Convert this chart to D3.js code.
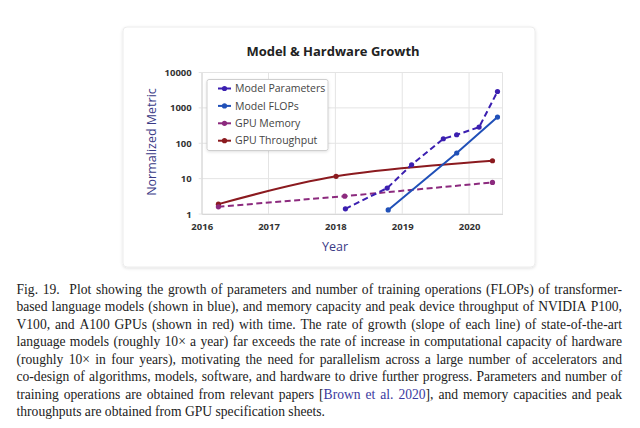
<!DOCTYPE html>
<html><head><meta charset="utf-8">
<script src="https://cdn.jsdelivr.net/npm/d3@7"></script>
<style>html,body{margin:0;padding:0;background:#fff;}svg{display:block;}</style>
</head><body>
<svg id="c" width="640" height="428"></svg>
<script>
// ---- data ----
const paramYears = [2018.15, 2018.775, 2019.14, 2019.615, 2019.815, 2020.15, 2020.425];
const paramVals  = [1.4, 5.4, 24.7, 134, 174, 286, 2900];
const flopYears  = [2018.79, 2019.815, 2020.425];
const flopVals   = [1.3, 53, 550];
const memYears   = [2016.25, 2018.14, 2020.35];
const memVals    = [1.6, 3.2, 7.8];
const thrYears   = [2016.25, 2018.01, 2020.35];
const thrVals    = [1.9, 11.6, 32];
const seriesNames = ["Model Parameters", "Model FLOPs", "GPU Memory", "GPU Throughput"];
const xTicks = [2016, 2017, 2018, 2019, 2020];
const yTicks = [1, 10, 100, 1000, 10000];
const captionLines = [
 "Fig. 19.  Plot showing the growth of parameters and number of training operations (FLOPs) of transformer-",
 "based language models (shown in blue), and memory capacity and peak device throughput of NVIDIA P100,",
 "V100, and A100 GPUs (shown in red) with time. The rate of growth (slope of each line) of state-of-the-art",
 "language models (roughly 10× a year) far exceeds the rate of increase in computational capacity of hardware",
 "(roughly 10× in four years), motivating the need for parallelism across a large number of accelerators and",
 "co-design of algorithms, models, software, and hardware to drive further progress. Parameters and number of",
 "training operations are obtained from relevant papers [Brown et al. 2020], and memory capacities and peak",
 "throughputs are obtained from GPU specification sheets."
];

const svg = d3.select("#c");
const defs = svg.append("defs");
const f = defs.append("filter").attr("id","sh").attr("x","-5%").attr("y","-5%").attr("width","110%").attr("height","115%");
f.append("feDropShadow").attr("dx",0).attr("dy",1).attr("stdDeviation",1.5).attr("flood-color","#000").attr("flood-opacity",0.12);

// card
svg.append("rect").attr("x",123).attr("y",27).attr("width",412).attr("height",240).attr("rx",4)
  .attr("fill","#fff").attr("stroke","#ececec").attr("filter","url(#sh)");

const x = d3.scaleLinear().domain([2016, 2020.5]).range([201.7, 502.5]);
const y = d3.scaleLog().domain([1, 10000]).range([214, 72.5]);

// grid
const g = svg.append("g");
g.selectAll(".vg").data(xTicks.concat([2020.5])).join("line")
  .attr("x1",d=>x(d)).attr("x2",d=>x(d)).attr("y1",y(1)).attr("y2",y(10000))
  .attr("stroke","#e4e4e4").attr("stroke-width",1);
g.selectAll(".hg").data(yTicks).join("line")
  .attr("x1",x(2016)-3).attr("x2",x(2020.5)).attr("y1",d=>y(d)).attr("y2",d=>y(d))
  .attr("stroke","#e4e4e4").attr("stroke-width",1);

// axes
const ax = svg.append("g").attr("transform",`translate(0,${y(1)})`)
  .call(d3.axisBottom(x).tickValues(xTicks).tickFormat(d3.format("d")).tickSize(0).tickPadding(9));
const ay = svg.append("g").attr("transform",`translate(${x(2016)},0)`)
  .call(d3.axisLeft(y).tickValues(yTicks).tickFormat(d3.format("d")).tickSize(0).tickPadding(10));
[ax, ay].forEach(a => {
  a.select(".domain").attr("stroke","#d8d8d8");
  a.selectAll("text").attr("font-family","'Open Sans', sans-serif").attr("font-weight",700)
    .attr("font-size","9.5px").attr("fill","#333");
});

// title & labels
svg.append("text").attr("x",333).attr("y",56).attr("text-anchor","middle")
  .attr("font-family","'Open Sans', sans-serif").attr("font-weight",700).attr("font-size","13px")
  .attr("fill","#222").text("Model & Hardware Growth");
svg.append("text").attr("transform","translate(156,142) rotate(-90)").attr("text-anchor","middle")
  .attr("font-family","'Open Sans', sans-serif").attr("font-size","12.5px")
  .attr("fill","#3a3a86").text("Normalized Metric");
svg.append("text").attr("x",335).attr("y",251).attr("text-anchor","middle")
  .attr("font-family","'Open Sans', sans-serif").attr("font-size","12.5px")
  .attr("fill","#3a3a86").text("Year");

// series
const series = [
  {name: seriesNames[0], xs: paramYears, vs: paramVals, color:"#3b1fb0", dash:"6,3.5", curve:d3.curveLinear},
  {name: seriesNames[1], xs: flopYears, vs: flopVals, color:"#2050b8", dash:null, curve:d3.curveLinear},
  {name: seriesNames[2], xs: memYears, vs: memVals, color:"#8c2a7e", dash:"6,3.5", curve:d3.curveLinear},
  {name: seriesNames[3], xs: thrYears, vs: thrVals, color:"#8b1a1f", dash:null, curve:d3.curveCatmullRom.alpha(0.5)}
];
const drawOrder = [3, 2, 1, 0];
drawOrder.forEach(i => {
  const s = series[i];
  const pts = s.xs.map((d,j)=>[d, s.vs[j]]);
  const line = d3.line().x(d=>x(d[0])).y(d=>y(d[1])).curve(s.curve);
  svg.append("path").datum(pts).attr("d",line).attr("fill","none")
    .attr("stroke",s.color).attr("stroke-width",2).attr("stroke-dasharray",s.dash);
  svg.append("g").selectAll("circle").data(pts).join("circle")
    .attr("cx",d=>x(d[0])).attr("cy",d=>y(d[1])).attr("r",2.6).attr("fill",s.color);
});

// legend
const lg = svg.append("g");
lg.append("rect").attr("x",207).attr("y",79.5).attr("width",121).attr("height",71).attr("rx",2)
  .attr("fill","#fff").attr("stroke","#cfcfcf").attr("filter","url(#sh)");
series.forEach((s,i) => {
  const yy = 88.5 + i*17.4;
  lg.append("line").attr("x1",218).attr("x2",231).attr("y1",yy).attr("y2",yy)
    .attr("stroke",s.color).attr("stroke-width",2);
  lg.append("circle").attr("cx",224.5).attr("cy",yy).attr("r",2.6).attr("fill",s.color);
  lg.append("text").attr("x",235).attr("y",yy+3.6)
    .attr("font-family","'Open Sans', sans-serif").attr("font-size","10.5px").attr("fill","#444").text(s.name);
});

// caption (justified)
const capX0 = 16.5, capX1 = 622, base0 = 294, lh = 17.47;
const cap = svg.append("g").attr("font-family","'Liberation Serif', serif").attr("font-size","13.6px").attr("fill","#222");
captionLines.forEach((ln, i) => {
  const words = ln.split(/ +/);
  const t = cap.append("text").attr("y", base0 + i*lh);
  const spans = words.map(w => t.append("tspan").text(w)
     .attr("fill", /Brown|et$|al\.|2020\]/.test(w) && i===6 ? "#3a3aa0" : null));
  const widths = spans.map(s => s.node().getComputedTextLength());
  // extra space after "Fig. 19."
  const extra = words.map((w,j) => (i===0 && j===1) ? 5 : 0);
  const total = d3.sum(widths) + d3.sum(extra);
  const last = i === captionLines.length - 1;
  const gap = last ? 3.4 : (capX1 - capX0 - total) / (words.length - 1);
  let cx = capX0;
  spans.forEach((s,j) => { s.attr("x", cx); cx += widths[j] + gap + extra[j]; });
});
// keep brackets in text colour
cap.selectAll("tspan").each(function(){
  const s = d3.select(this), txt = s.text();
  if (txt === "[Brown") { s.text(null); s.append("tspan").attr("fill","#222").text("["); s.append("tspan").attr("fill","#3a3aa0").text("Brown"); }
  if (txt === "2020],") { s.text(null); s.append("tspan").attr("fill","#3a3aa0").text("2020"); s.append("tspan").attr("fill","#222").text("],"); }
});
</script>
</body></html>
